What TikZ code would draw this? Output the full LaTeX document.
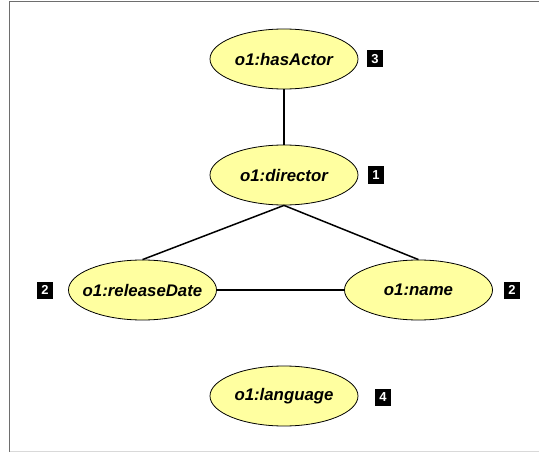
\documentclass[tikz,border=0pt]{standalone}
\usepackage{fontspec}
\setmainfont{Liberation Sans}
\definecolor{propfill}{RGB}{255,255,160}
\definecolor{framegray}{RGB}{110,110,110}
\usetikzlibrary{shapes.geometric}
\tikzset{
  prop/.style={ellipse, draw, fill=propfill, line width=0.8pt, minimum width=148pt, minimum height=60pt,
    inner xsep=-9pt, inner ysep=0pt, font=\fontsize{16.8}{20}\selectfont\bfseries\itshape},
  rank/.style={rectangle, fill=black, text=white, minimum width=16pt, minimum height=17pt, inner sep=0pt,
    font=\fontsize{13}{15}\selectfont\bfseries},
}
\begin{document}
\begin{tikzpicture}[x=1pt, y=-1pt]
        \useasboundingbox (0,0) rectangle (539,452);
        % frame
        \draw[framegray, line width=1.5pt] (9.5,452) -- (9.5,1.5) -- (539,1.5);
        \draw[gray!30, line width=1pt] (9.5,451) -- (539,451);

        \node[prop] (actor) at (284,59) {o1:hasActor};
        \node[prop] (director) at (284,175) {o1:director};
        \node[prop] (date) at (142.5,290) {o1:releaseDate};
        \node[prop] (name) at (418.5,290) {o1:name};
        \node[prop] (lang) at (284,396) {o1:language};

        \node[rank] (r3) at (375,59) {3};
        \node[rank] (r1) at (376,175) {1};
        \node[rank] (r2a) at (45,290) {2};
        \node[rank] (r2b) at (512,290) {2};
        \node[rank] (r4) at (383,397) {4};

        \draw[line width=1.5pt] (actor) -- (director);
        \draw[line width=1.5pt] (director.south) -- (date.north);
        \draw[line width=1.5pt] (director.south) -- (name.north);
        \draw[line width=1.5pt] (date) -- (name);
\end{tikzpicture}
\end{document}
